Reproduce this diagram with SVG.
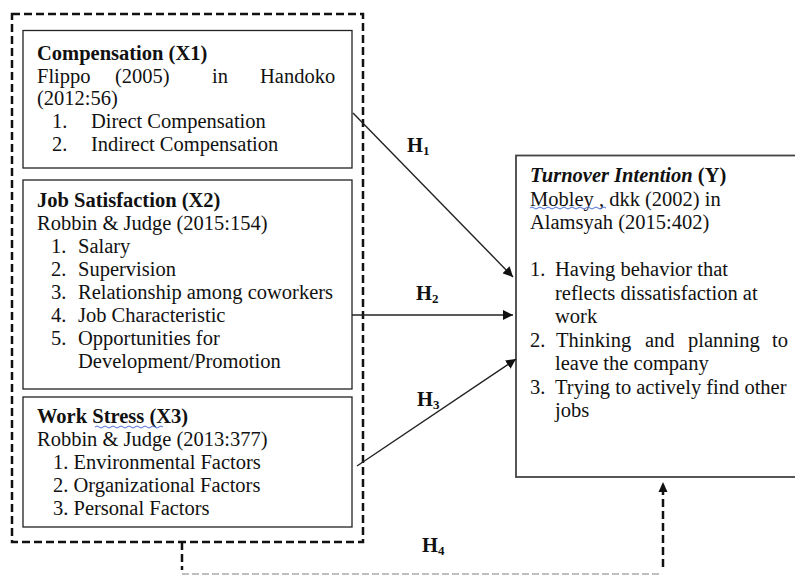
<svg xmlns="http://www.w3.org/2000/svg" width="795" height="576" viewBox="0 0 795 576">
  <defs>
    <style>
      text { font-family: "Liberation Serif", "Times New Roman", serif; font-size: 20.5px; fill: #111; }
      .b { font-weight: bold; }
      .bi { font-weight: bold; font-style: italic; }
      .sub { font-size: 13px; font-weight: bold; }
      .box { fill: #fff; stroke: #222; stroke-width: 1.3; }
      .outer { fill: none; stroke: #111; stroke-width: 2.5; stroke-dasharray: 8 4; }
      .conn { fill: none; stroke: #222; stroke-width: 1.4; }
      .dash { fill: none; stroke: #111; stroke-width: 2.5; stroke-dasharray: 8 4; }
      .gray { fill: none; stroke: #aaa; stroke-width: 1.6; stroke-dasharray: 7 3; }
      .wave { fill: none; stroke: #3a5fd0; stroke-width: 0.9; }
    </style>
    <marker id="arr" viewBox="0 0 10 10" refX="10" refY="5" markerWidth="10" markerHeight="10" markerUnits="userSpaceOnUse" orient="auto">
      <path d="M0,0 L10,5 L0,10 Z" fill="#111"/>
    </marker>
  </defs>

  <g id="group-x">
    <rect class="outer" x="12" y="14" width="351" height="528"/>
  </g>

  <g id="x1">
    <rect class="box" x="23" y="30.5" width="329" height="137.5"/>
    <text class="b" x="37" y="60">Compensation (X1)</text>
    <text x="37" y="83">Flippo</text>
    <text x="115" y="83">(2005)</text>
    <text x="212" y="83">in</text>
    <text x="260" y="83">Handoko</text>
    <text x="37" y="105">(2012:56)</text>
    <text x="52" y="128">1.</text>
    <text x="91" y="128">Direct Compensation</text>
    <text x="52" y="151">2.</text>
    <text x="91" y="151">Indirect Compensation</text>
  </g>

  <g id="x2">
    <rect class="box" x="23" y="180" width="329" height="209"/>
    <text class="b" x="37" y="207">Job Satisfaction (X2)</text>
    <text x="37" y="230">Robbin &amp; Judge (2015:154)</text>
    <text x="51" y="253">1.</text><text x="78" y="253">Salary</text>
    <text x="51" y="276">2.</text><text x="78" y="276">Supervision</text>
    <text x="51" y="299">3.</text><text x="78" y="299">Relationship among coworkers</text>
    <text x="51" y="322">4.</text><text x="78" y="322">Job Characteristic</text>
    <text x="51" y="345">5.</text><text x="78" y="345">Opportunities for</text>
    <text x="78" y="368">Development/Promotion</text>
  </g>

  <g id="x3">
    <rect class="box" x="23" y="397" width="329" height="130"/>
    <text class="b" x="37" y="423">Work Stress  (X3)</text>
    <path class="wave" d="M95,427 q2,-2 4,0 t4,0 t4,0 t4,0 t4,0 t4,0 t4,0 t4,0 t4,0 t4,0 t4,0 t4,0 t4,0 t4,0 t4,0 t4,0 t4,0"/>
    <text x="37" y="446">Robbin &amp; Judge (2013:377)</text>
    <text x="53" y="469">1. Environmental Factors</text>
    <text x="53" y="492">2. Organizational Factors</text>
    <text x="53" y="515">3. Personal Factors</text>
  </g>

  <g id="y">
    <rect x="516" y="155.5" width="290" height="321.5" fill="#fff" stroke="#444" stroke-width="1.8"/>
    <text x="530" y="182"><tspan class="bi">Turnover Intention</tspan><tspan class="b"> (Y)</tspan></text>
    <text x="530" y="205.5">Mobley , dkk (2002) in</text>
    <path class="wave" d="M530,208 q2,-2 4,0 t4,0 t4,0 t4,0 t4,0 t4,0 t4,0 t4,0 t4,0 t4,0 t4,0 t4,0 t4,0 t4,0 t4,0 t4,0 t4,0 t4,0 t4,0"/>
    <text x="530" y="229">Alamsyah (2015:402)</text>
    <text x="530" y="276">1.</text><text x="555" y="276">Having behavior that</text>
    <text x="555" y="299.5">reflects dissatisfaction at</text>
    <text x="555" y="323">work</text>
    <text x="530" y="346.5">2.</text>
    <text x="556" y="346.5">Thinking</text>
    <text x="645" y="346.5">and</text>
    <text x="688" y="346.5">planning</text>
    <text x="772" y="346.5">to</text>
    <text x="555" y="370">leave the company</text>
    <text x="530" y="393.5">3.</text><text x="555" y="393.5">Trying to actively find other</text>
    <text x="555" y="417">jobs</text>
  </g>

  <g id="connectors">
    <line class="conn" x1="353" y1="113" x2="513" y2="277" marker-end="url(#arr)"/>
    <line class="conn" x1="352" y1="315" x2="513" y2="315" marker-end="url(#arr)"/>
    <line class="conn" x1="357" y1="466" x2="516" y2="359" marker-end="url(#arr)"/>
    <path class="dash" d="M182,542 V570"/>
    <path class="gray" d="M182,574 H662"/>
    <path class="dash" d="M663,567 V490"/>
    <path d="M663,482 L667.5,492 L658.5,492 Z" fill="#111"/>
  </g>

  <g id="labels">
    <text class="b" x="407" y="152">H<tspan class="sub" dy="3">1</tspan></text>
    <text class="b" x="416" y="300">H<tspan class="sub" dy="3">2</tspan></text>
    <text class="b" x="417" y="406">H<tspan class="sub" dy="3">3</tspan></text>
    <text class="b" x="422" y="552">H<tspan class="sub" dy="3">4</tspan></text>
  </g>
</svg>
